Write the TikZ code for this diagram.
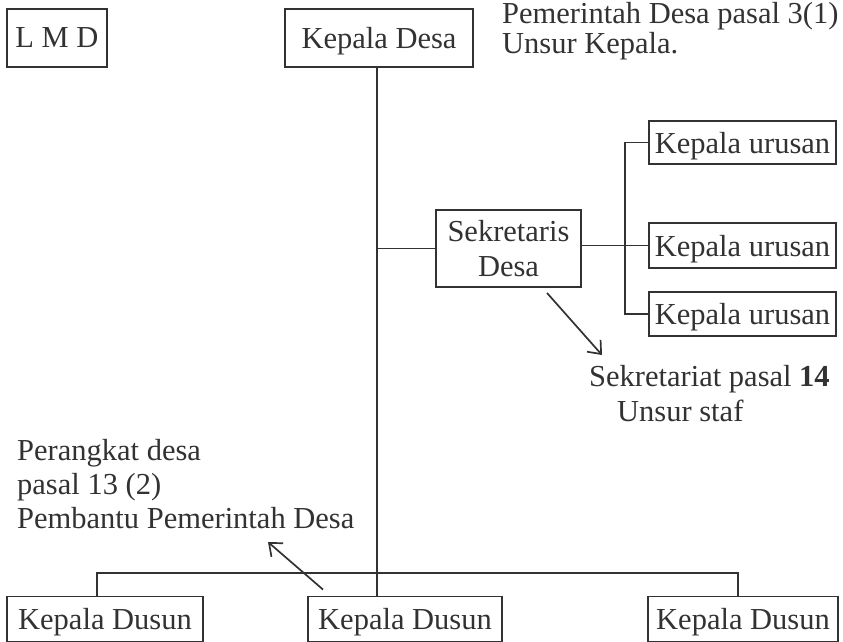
\documentclass[tikz,border=0pt]{standalone}
\usepackage{fontspec}
\setmainfont{Liberation Serif}
\usetikzlibrary{arrows.meta}
\definecolor{ink}{RGB}{50,50,50}
\begin{document}
\begin{tikzpicture}[x=1pt,y=-1pt,
  every node/.style={font=\fontsize{30.5}{34}\selectfont, text=ink, inner sep=0pt},
  box/.style={draw=ink, line width=1.9pt, align=center},
  onebox/.style={box, text depth=0pt},
  conn/.style={draw=ink, line width=1.7pt},
  arr/.style={conn, -{Straight Barb[length=11pt,width=18pt,line width=1.7pt]}},
  note/.style={align=left, anchor=base west}]
\useasboundingbox (0,0) rectangle (843,642);
% boxes
\node[onebox, minimum width=100pt, minimum height=58pt] (lmd) at (57,38) {L M D};
\node[onebox, minimum width=188pt, minimum height=58pt] (kd) at (379,38) {Kepala Desa};
\node[box, minimum width=145pt, minimum height=77pt, font=\fontsize{30.5}{35}\selectfont] (sek) at (508.5,248.5) {Sekretaris\\Desa};
\node[onebox, minimum width=187pt, minimum height=43pt] (ku1) at (742.5,142.5) {Kepala urusan};
\node[onebox, minimum width=187pt, minimum height=45pt] (ku2) at (742.5,245.5) {Kepala urusan};
\node[onebox, minimum width=187pt, minimum height=44pt] (ku3) at (742.5,314) {Kepala urusan};
\node[onebox, minimum width=196pt, minimum height=45pt] (dus1) at (105,619) {Kepala Dusun};
\node[onebox, minimum width=194pt, minimum height=45pt] (dus2) at (405,619) {Kepala Dusun};
\node[onebox, minimum width=190pt, minimum height=45pt] (dus3) at (743,619) {Kepala Dusun};
% notes (anchored at the baseline of their last line)
\node[note, font=\fontsize{30.5}{29}\selectfont] (tr) at (502,53) {Pemerintah Desa pasal 3(1)\\Unsur Kepala.};
\node[note, font=\fontsize{30.5}{35}\selectfont] (st) at (589,421) {Sekretariat pasal \textbf{14}\\\hspace*{28pt}Unsur staf};
\node[note, font=\fontsize{30.5}{34}\selectfont] (pd) at (17,528) {Perangkat desa\\pasal 13 (2)\\Pembantu Pemerintah Desa};
% helper coordinates
\coordinate (mx) at (377,0);
\coordinate (bx) at (625,0);
\coordinate (bl) at (97,573);
\coordinate (br) at (738,573);
\coordinate (a1) at (602,355);
\coordinate (a2) at (268,542);
% connectors
\draw[conn] (kd.south -| mx) -- (dus2.north -| mx);
\draw[conn] (sek.west) -- (sek.west -| mx);
\draw[conn] (sek.east |- ku2.west) -- (ku2.west);
\draw[conn] (ku1.west) -- (ku1.west -| bx) -- (ku3.west -| bx) -- (ku3.west);
\draw[conn] (dus1.north -| bl) -- (bl) -- (br) -- (dus3.north -| br);
\draw[arr] ([shift={(38.5,5)}]sek.south) -- (a1);
\draw[arr] ([shift={(-82,-6)}]dus2.north) -- (a2);
\end{tikzpicture}
\end{document}
